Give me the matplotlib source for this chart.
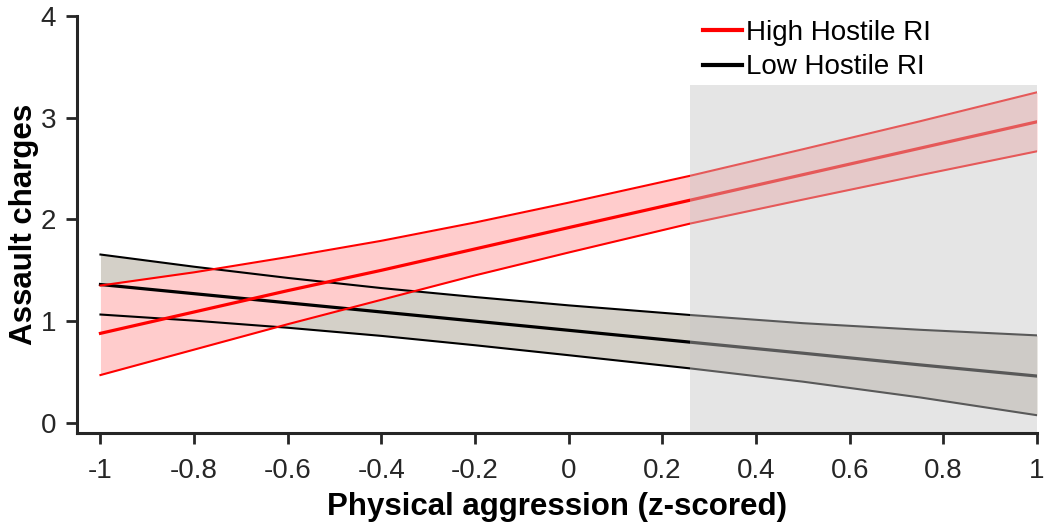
import matplotlib
matplotlib.use('Agg')
from matplotlib import pyplot
from matplotlib.patches import Rectangle

# readings from the reference picture
x_pts = [-1, -0.8, -0.6, -0.4, -0.2, 0, 0.26, 0.5, 0.75, 1]
high_mean = [0.88, 1.09, 1.30, 1.50, 1.71, 1.92, 2.19, 2.44, 2.70, 2.96]
high_upper = [1.35, 1.48, 1.63, 1.79, 1.97, 2.165, 2.43, 2.69, 2.965, 3.25]
high_lower = [0.47, 0.72, 0.97, 1.21, 1.45, 1.675, 1.96, 2.195, 2.435, 2.67]
low_mean = [1.36, 1.27, 1.18, 1.09, 1.00, 0.91, 0.793, 0.685, 0.57, 0.46]
low_upper = [1.655, 1.535, 1.425, 1.325, 1.237, 1.155, 1.06, 0.98, 0.915, 0.86]
low_lower = [1.065, 1.005, 0.935, 0.855, 0.763, 0.665, 0.535, 0.405, 0.25, 0.075]
shade_x = [0.26, 1.0]
shade_top = 3.32

xticks = [-1, -0.8, -0.6, -0.4, -0.2, 0, 0.2, 0.4, 0.6, 0.8, 1]
xticklabels = ['-1', '-0.8', '-0.6', '-0.4', '-0.2', '0', '0.2', '0.4', '0.6', '0.8', '1']
yticks = [0, 1, 2, 3, 4]

pyplot.rcParams.update({'font.family': 'Liberation Sans', 'font.size': 20})

fig = pyplot.figure(figsize=(10.44, 5.25), dpi=100)
ax = fig.add_axes([0.0738, 0.1752, 0.9195, 0.7943])

ax.fill_between(x_pts, low_lower, low_upper, color='#d4d0c8', lw=0, zorder=1)
ax.fill_between(x_pts, high_lower, high_upper, color='#ffcccc', lw=0, zorder=2)

ax.plot(x_pts, low_upper, color='black', lw=1.5, zorder=3)
ax.plot(x_pts, low_lower, color='black', lw=1.5, zorder=3)
ax.plot(x_pts, low_mean, color='black', lw=2.3, zorder=3, label='Low Hostile RI')
ax.plot(x_pts, high_upper, color='red', lw=1.5, zorder=4)
ax.plot(x_pts, high_lower, color='red', lw=1.5, zorder=4)
ax.plot(x_pts, high_mean, color='red', lw=2.3, zorder=4, label='High Hostile RI')

ax.add_patch(Rectangle((shade_x[0], -0.1), shade_x[1] - shade_x[0], shade_top + 0.1,
                       facecolor=(0.78, 0.78, 0.78), alpha=0.45, lw=0, zorder=5))

ax.set_xlim(-1.05, 1.0)
ax.set_ylim(-0.1, 4.0)
ax.set_xticks(xticks)
ax.set_xticklabels(xticklabels)
ax.set_yticks(yticks)

for s in ['top', 'right']:
    ax.spines[s].set_visible(False)
for s in ['left', 'bottom']:
    ax.spines[s].set_linewidth(2.2)
    ax.spines[s].set_color('#262626')
    ax.spines[s].set_zorder(6)
ax.tick_params(direction='out', length=8, width=2, color='#262626', labelcolor='#262626')
ax.tick_params(axis='x', pad=10)
ax.tick_params(axis='y', pad=7)

ax.set_xlabel('Physical aggression (z-scored)', fontweight='bold', fontsize=22.5, labelpad=6)
ax.set_ylabel('Assault charges', fontweight='bold', fontsize=22.5, labelpad=1)

handles, labels = ax.get_legend_handles_labels()
leg = ax.legend(handles[::-1], labels[::-1], loc='upper left', bbox_to_anchor=(0.626, 1.05),
                frameon=False, handlelength=1.4, handletextpad=0.15, labelspacing=0.3,
                fontsize=20)
for line in leg.get_lines():
    line.set_linewidth(3)

fig.savefig('out.png')
